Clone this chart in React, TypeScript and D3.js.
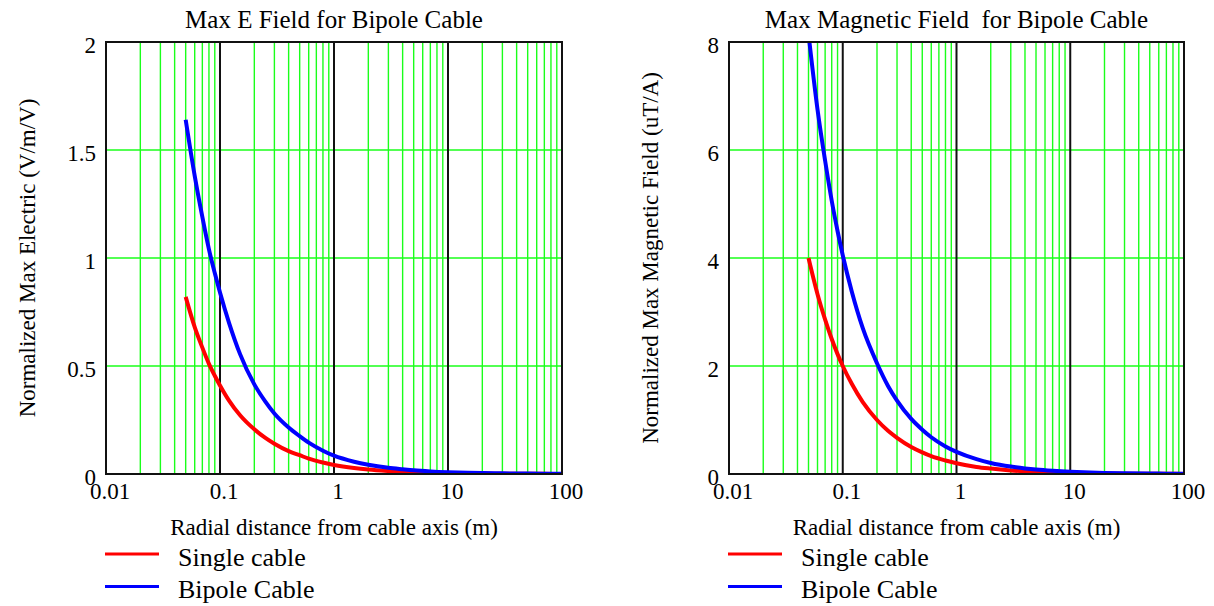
import React from "react";
import * as d3 from "d3";

const radius = [0.05, 0.06, 0.07, 0.08, 0.09, 0.1, 0.12, 0.15, 0.2, 0.25, 0.3, 0.4, 0.5, 0.6, 0.8, 1, 1.5, 2, 3, 4, 5, 7, 10, 15, 20, 30, 50, 70, 100];

const eSingle = [0.82, 0.68, 0.585, 0.51, 0.455, 0.41, 0.34, 0.272, 0.207, 0.167, 0.14, 0.106, 0.087, 0.071, 0.053, 0.042, 0.028, 0.021, 0.014, 0.010, 0.008, 0.006, 0.004, 0.003, 0.002, 0.0014, 0.0008, 0.0006, 0.0004];
const eBipole = [1.64, 1.38, 1.19, 1.04, 0.93, 0.84, 0.70, 0.555, 0.415, 0.335, 0.28, 0.215, 0.175, 0.145, 0.108, 0.085, 0.057, 0.043, 0.029, 0.022, 0.017, 0.012, 0.0085, 0.006, 0.0045, 0.003, 0.0018, 0.0013, 0.0009];

const bSingle = [4.0, 3.33, 2.86, 2.5, 2.22, 2.0, 1.67, 1.33, 1.0, 0.8, 0.67, 0.5, 0.4, 0.33, 0.25, 0.2, 0.13, 0.1, 0.067, 0.05, 0.04, 0.029, 0.02, 0.013, 0.01, 0.0067, 0.004, 0.003, 0.002];
const bBipole = [8.15, 6.75, 5.8, 5.06, 4.5, 4.05, 3.38, 2.7, 2.05, 1.63, 1.36, 1.02, 0.82, 0.68, 0.51, 0.41, 0.275, 0.205, 0.137, 0.103, 0.082, 0.059, 0.041, 0.027, 0.02, 0.0137, 0.0082, 0.0059, 0.0041];

const xTickValues = [0.01, 0.1, 1, 10, 100];
const xTickLabels = ["0.01", "0.1", "1", "10", "100"];
const eTicks = [0, 0.5, 1, 1.5, 2];
const eTickLabels = ["0", "0.5", "1", "1.5", "2"];
const bTicks = [0, 2, 4, 6, 8];
const bTickLabels = ["0", "2", "4", "6", "8"];

const seriesNames = ["Single cable", "Bipole Cable"];
const seriesColors = ["#ff0000", "#0000ff"];

const FONT = "'Liberation Serif', 'Times New Roman', serif";

type PanelProps = {
  id: string;
  x0: number;
  x1: number;
  title: string;
  yLabel: string;
  yMax: number;
  yTicks: number[];
  yTickLabels: string[];
  single: number[];
  bipole: number[];
};

function Panel(p: PanelProps) {
  const y0 = 42;
  const y1 = 474;
  const x = d3.scaleLog().domain([0.01, 100]).range([p.x0, p.x1]);
  const y = d3.scaleLinear().domain([0, p.yMax]).range([y1, y0]);
  const minor: number[] = [];
  for (let dec = 0.01; dec < 100; dec *= 10) {
    for (let k = 2; k <= 9; k++) minor.push(+(dec * k).toPrecision(3));
  }
  const line = d3
    .line<number>()
    .x((_, i) => x(radius[i]))
    .y((v) => y(v))
    .curve(d3.curveMonotoneX);
  const cx = (p.x0 + p.x1) / 2;
  const cy = (y0 + y1) / 2;
  const series = [p.single, p.bipole];
  return (
    <g>
      <defs>
        <clipPath id={p.id}>
          <rect x={p.x0} y={y0} width={p.x1 - p.x0} height={y1 - y0} />
        </clipPath>
      </defs>
      {minor.map((m) => (
        <line key={"m" + m} x1={x(m)} x2={x(m)} y1={y0} y2={y1} stroke="#1aff1a" strokeWidth={1.4} />
      ))}
      {p.yTicks.slice(1, -1).map((t) => (
        <line key={"h" + t} x1={p.x0} x2={p.x1} y1={y(t)} y2={y(t)} stroke="#1aff1a" strokeWidth={1.4} />
      ))}
      {xTickValues.slice(1, -1).map((t) => (
        <line key={"d" + t} x1={x(t)} x2={x(t)} y1={y0} y2={y1} stroke="#111" strokeWidth={2} />
      ))}
      <g clipPath={`url(#${p.id})`}>
        {series.map((s, i) => (
          <path key={i} d={line(s) || ""} fill="none" stroke={seriesColors[i]} strokeWidth={4} strokeLinejoin="round" />
        ))}
      </g>
      <rect x={p.x0} y={y0} width={p.x1 - p.x0} height={y1 - y0} fill="none" stroke="#111" strokeWidth={2} />
      {xTickValues.map((t, i) => (
        <text key={"xl" + t} x={x(t) + 4} y={499} textAnchor="middle" fontSize={23} fontFamily={FONT}>
          {xTickLabels[i]}
        </text>
      ))}
      {p.yTicks.map((t, i) => (
        <text key={"yl" + t} x={p.x0 - 10} y={y(t) + 11} textAnchor="end" fontSize={23} fontFamily={FONT}>
          {p.yTickLabels[i]}
        </text>
      ))}
      <text x={cx} y={28} textAnchor="middle" fontSize={25} fontFamily={FONT} style={{ whiteSpace: "pre" }}>
        {p.title}
      </text>
      <text x={cx} y={535} textAnchor="middle" fontSize={23} fontFamily={FONT}>
        Radial distance from cable axis (m)
      </text>
      <text
        transform={`translate(${p.x0 - 71},${cy}) rotate(-90)`}
        textAnchor="middle"
        fontSize={23}
        fontFamily={FONT}
      >
        {p.yLabel}
      </text>
      {seriesNames.map((n, i) => (
        <g key={n}>
          <line x1={p.x0 - 1} x2={p.x0 + 53} y1={554 + i * 32.5} y2={554 + i * 32.5} stroke={seriesColors[i]} strokeWidth={3} />
          <text x={p.x0 + 72} y={566 + i * 32} fontSize={26} fontFamily={FONT}>
            {n}
          </text>
        </g>
      ))}
    </g>
  );
}

export default function App() {
  return (
    <svg width={1214} height={606} style={{ position: "absolute", left: 0, top: 0, background: "#fff" }}>
      <rect width={1214} height={606} fill="#fff" />
      <Panel
        id="clipE"
        x0={106}
        x1={562}
        title="Max E Field for Bipole Cable"
        yLabel="Normalized Max Electric (V/m/V)"
        yMax={2}
        yTicks={eTicks}
        yTickLabels={eTickLabels}
        single={eSingle}
        bipole={eBipole}
      />
      <Panel
        id="clipB"
        x0={729}
        x1={1184}
        title="Max Magnetic Field  for Bipole Cable"
        yLabel="Normalized Max Magnetic Field (uT/A)"
        yMax={8}
        yTicks={bTicks}
        yTickLabels={bTickLabels}
        single={bSingle}
        bipole={bBipole}
      />
    </svg>
  );
}
